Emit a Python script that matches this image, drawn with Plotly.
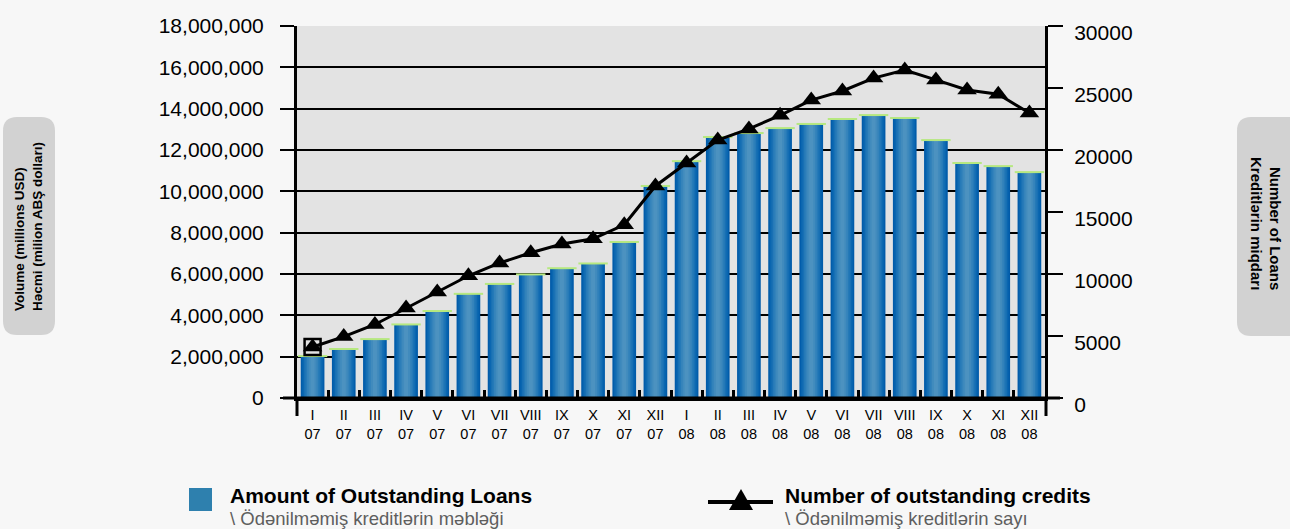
import plotly.graph_objects as go

# ---------------- data ----------------
months = ["I", "II", "III", "IV", "V", "VI", "VII", "VIII", "IX", "X", "XI", "XII"] * 2
years = ["07"] * 12 + ["08"] * 12
categories = [f"{m}<br>{y}" for m, y in zip(months, years)]

loans = [2030000, 2370000, 2850000, 3560000, 4210000, 5040000, 5520000, 5980000,
         6280000, 6510000, 7550000, 10260000, 11460000, 12630000, 12820000, 13060000,
         13260000, 13500000, 13690000, 13550000, 12480000, 11370000, 11220000, 10930000]

credits = [4110, 4950, 5930, 7260, 8550, 9860, 10890, 11710, 12420, 12840, 13970, 17100,
           18950, 20800, 21700, 22800, 24030, 24760, 25800, 26450, 25650, 24840, 24500, 22980]

left_title = ["Volume (millions USD)", "Həcmi (milion ABŞ dolları)"]
right_title = ["Number of Loans", "Kreditlərin miqdarı"]
legend_bar = ["Amount of Outstanding Loans", "\\ Ödənilməmiş kreditlərin məbləği"]
legend_line = ["Number of outstanding credits", "\\ Ödənilməmiş kreditlərin sayı"]

# ---------------- layout geometry (pixels) ----------------
W, H = 1290, 529
L, T, R, B = 297, 26, 1045, 398
PW, PH = R - L, B - T


def px(x):
    return (x - L) / PW


def py(y):
    return (B - y) / PH


FONT = "Liberation Sans, Arial, sans-serif"

fig = go.Figure()

# gradient cylinders: overlay of narrowing bars
layers = [(0.76, "rgb(2,92,170)"), (0.66, "rgb(10,102,176)"), (0.56, "rgb(24,112,180)"),
          (0.46, "rgb(38,122,184)"), (0.36, "rgb(52,131,187)"), (0.25, "rgb(65,139,189)"),
          (0.13, "rgb(76,146,192)")]
for w, c in layers:
    fig.add_trace(go.Bar(x=categories, y=loans, width=w, marker=dict(color=c, line=dict(width=0)),
                         showlegend=False, hoverinfo="skip", yaxis="y"))
# light rim at the top of each cylinder
fig.add_trace(go.Scatter(x=categories, y=loans, mode="markers", yaxis="y",
                         marker=dict(symbol="line-ew-open", size=21,
                                     line=dict(color="rgb(236,243,250)", width=2)),
                         showlegend=False, hoverinfo="skip"))

# line of credit counts
fig.add_trace(go.Scatter(x=categories, y=credits, yaxis="y2", mode="lines+markers",
                         line=dict(color="black", width=3),
                         marker=dict(symbol="triangle-up", size=17, color="black"),
                         showlegend=False))
# highlighted first point
fig.add_trace(go.Scatter(x=categories[:1], y=credits[:1], yaxis="y2", mode="markers",
                         marker=dict(symbol="square-open", size=16, color="black",
                                     line=dict(width=2.5, color="black")),
                         showlegend=False, hoverinfo="skip"))

shapes = []
# extended axis lines
shapes.append(dict(type="line", xref="paper", yref="paper", x0=px(297), x1=px(297),
                   y0=py(398), y1=py(416), line=dict(color="black", width=3)))
shapes.append(dict(type="line", xref="paper", yref="paper", x0=px(1046), x1=px(1046),
                   y0=py(398), y1=py(416), line=dict(color="black", width=3)))
shapes.append(dict(type="line", xref="paper", yref="paper", x0=px(283), x1=px(1060),
                   y0=py(398), y1=py(398), line=dict(color="black", width=3)))


def rounded(x0, y0, x1, y1, r):
    return (f"M {px(x0 + r)},{py(y0)} L {px(x1 - r)},{py(y0)} "
            f"Q {px(x1)},{py(y0)} {px(x1)},{py(y0 + r)} L {px(x1)},{py(y1 - r)} "
            f"Q {px(x1)},{py(y1)} {px(x1 - r)},{py(y1)} L {px(x0 + r)},{py(y1)} "
            f"Q {px(x0)},{py(y1)} {px(x0)},{py(y1 - r)} L {px(x0)},{py(y0 + r)} "
            f"Q {px(x0)},{py(y0)} {px(x0 + r)},{py(y0)} Z")


shapes.append(dict(type="path", xref="paper", yref="paper", path=rounded(3, 117, 55, 335, 14),
                   fillcolor="#d2d2d2", line=dict(width=0), layer="below"))
shapes.append(dict(type="path", xref="paper", yref="paper", path=rounded(1237, 117, 1310, 336, 14),
                   fillcolor="#d2d2d2", line=dict(width=0), layer="below"))

# legend symbols
shapes.append(dict(type="rect", xref="paper", yref="paper", x0=px(189), x1=px(212),
                   y0=py(488), y1=py(511), fillcolor="#2e80ae", line=dict(width=0)))
shapes.append(dict(type="line", xref="paper", yref="paper", x0=px(708), x1=px(773),
                   y0=py(502), y1=py(502), line=dict(color="black", width=4)))
shapes.append(dict(type="path", xref="paper", yref="paper",
                   path=f"M {px(729)},{py(510)} L {px(753)},{py(510)} L {px(741)},{py(489)} Z",
                   fillcolor="black", line=dict(width=0)))

annotations = []
annotations.append(dict(xref="paper", yref="paper", x=px(28), y=py(227), xanchor="center", yanchor="middle",
                        text=f"<b>{left_title[0]}</b><br><b>{left_title[1]}</b>", textangle=-90,
                        align="left", showarrow=False, font=dict(family=FONT, size=13.5, color="black")))
annotations.append(dict(xref="paper", yref="paper", x=px(1266), y=py(223), xanchor="center", yanchor="middle",
                        text=f"<b>{right_title[0]}</b><br><b>{right_title[1]}</b>", textangle=90,
                        align="right", showarrow=False, font=dict(family=FONT, size=15, color="black")))

for x0, lines in ((228, legend_bar), (783, legend_line)):
    annotations.append(dict(xref="paper", yref="paper", x=px(x0), y=py(495.5), xanchor="left",
                            yanchor="middle", text=f"<b>{lines[0]}</b>", showarrow=False,
                            font=dict(family=FONT, size=21, color="black")))
    annotations.append(dict(xref="paper", yref="paper", x=px(x0), y=py(518.5), xanchor="left",
                            yanchor="middle", text=lines[1], showarrow=False,
                            font=dict(family=FONT, size=18.5, color="#5e5e5e")))

fig.update_layout(
    width=W, height=H,
    margin=dict(l=L, r=W - R, t=T, b=H - B, pad=0, autoexpand=False),
    paper_bgcolor="#f7f7f7", plot_bgcolor="#e3e3e3",
    barmode="overlay",
    font=dict(family=FONT, color="black"),
    showlegend=False,
    xaxis=dict(type="category", range=[-0.5, len(categories) - 0.5], tickson="boundaries",
               ticks="inside", ticklen=8, tickwidth=3,
               tickcolor="black", showline=True, linecolor="black", linewidth=3, tickangle=0,
               showgrid=False, tickfont=dict(size=14.5, color="black"), fixedrange=True,
               automargin=False, ticklabelstandoff=2),
    yaxis=dict(range=[0, 18000000], dtick=2000000, tick0=0, tickformat=",",
               showgrid=True, gridcolor="black", gridwidth=2, zeroline=False,
               ticks="outside", ticklen=14, tickwidth=2, tickcolor="black",
               showline=True, linecolor="black", linewidth=3, automargin=False,
               tickfont=dict(size=21, color="black"), ticklabelstandoff=12, fixedrange=True),
    yaxis2=dict(range=[0, 30000], dtick=5000, tick0=0, tickformat="d", overlaying="y", side="right",
                showgrid=False, zeroline=False, ticks="outside", ticklen=15, tickwidth=2,
                tickcolor="black", showline=True, linecolor="black", linewidth=3, automargin=False,
                tickfont=dict(size=21, color="black"), ticklabelshift=7, ticklabelstandoff=7,
                fixedrange=True),
    shapes=shapes, annotations=annotations,
)

fig.write_html("out.html", config={"displayModeBar": False},
               post_script="document.body.style.margin='0';document.body.style.overflow='hidden';")
